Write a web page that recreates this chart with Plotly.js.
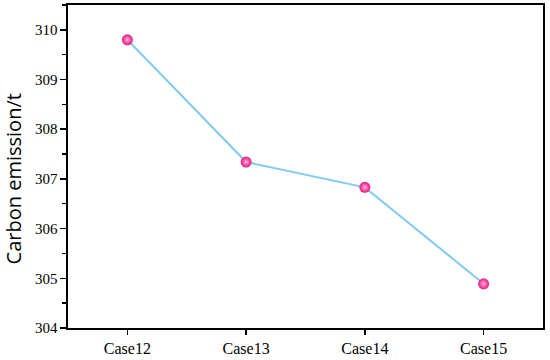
<!DOCTYPE html>
<html>
<head>
<meta charset="utf-8">
<script src="https://cdn.plot.ly/plotly-3.0.1.min.js"></script>
<style>html,body{margin:0;padding:0;background:#fff;}#chart{width:550px;height:360px;}</style>
</head>
<body>
<div id="chart"></div>
<script>
const categories = ["Case12", "Case13", "Case14", "Case15"];
const carbonEmission = [309.80, 307.34, 306.83, 304.89];
const yTickValues = [304, 305, 306, 307, 308, 309, 310];
const yTitle = "Carbon emission/t";

const trace = {
  x: categories,
  y: carbonEmission,
  type: "scatter",
  mode: "lines+markers",
  line: {color: "#7fcbf3", width: 2},
  marker: {
    size: 11,
    color: "#e8137f",
    line: {width: 0},
    gradient: {type: "radial", color: "#ffb0d8"}
  },
  hoverinfo: "skip"
};

const serif = "'Times New Roman', 'Liberation Serif', serif";

const layout = {
  width: 550,
  height: 360,
  margin: {l: 68, r: 7, t: 5, b: 32, pad: 0},
  paper_bgcolor: "#ffffff",
  plot_bgcolor: "#ffffff",
  showlegend: false,
  font: {family: serif, size: 15, color: "#000"},
  xaxis: {
    type: "category",
    range: [-0.5, 3.5],
    showgrid: false,
    zeroline: false,
    showline: true,
    linecolor: "#000",
    linewidth: 1.6,
    mirror: true,
    ticks: "outside",
    ticklen: 5,
    tickwidth: 1.5,
    tickcolor: "#000",
    tickfont: {family: serif, size: 16, color: "#000"}
  },
  yaxis: {
    range: [304, 310.5],
    tickvals: yTickValues,
    ticktext: yTickValues.map(String),
    showgrid: false,
    zeroline: false,
    showline: true,
    linecolor: "#000",
    linewidth: 1.6,
    mirror: true,
    ticks: "outside",
    ticklen: 6,
    tickwidth: 1.5,
    tickcolor: "#000",
    minor: {dtick: 0.5, ticks: "outside", ticklen: 4, tickwidth: 1.3, tickcolor: "#000", showgrid: false},
    tickfont: {family: serif, size: 15, color: "#000"}
  },
  annotations: [{
    text: yTitle,
    xref: "paper", yref: "paper",
    x: 0, y: 0.46,
    xshift: -55,
    xanchor: "center", yanchor: "middle",
    textangle: -90,
    showarrow: false,
    font: {family: "Open Sans", size: 20, color: "#000"}
  }]
};

Plotly.newPlot("chart", [trace], layout, {displayModeBar: false, staticPlot: true});
</script>
</body>
</html>
